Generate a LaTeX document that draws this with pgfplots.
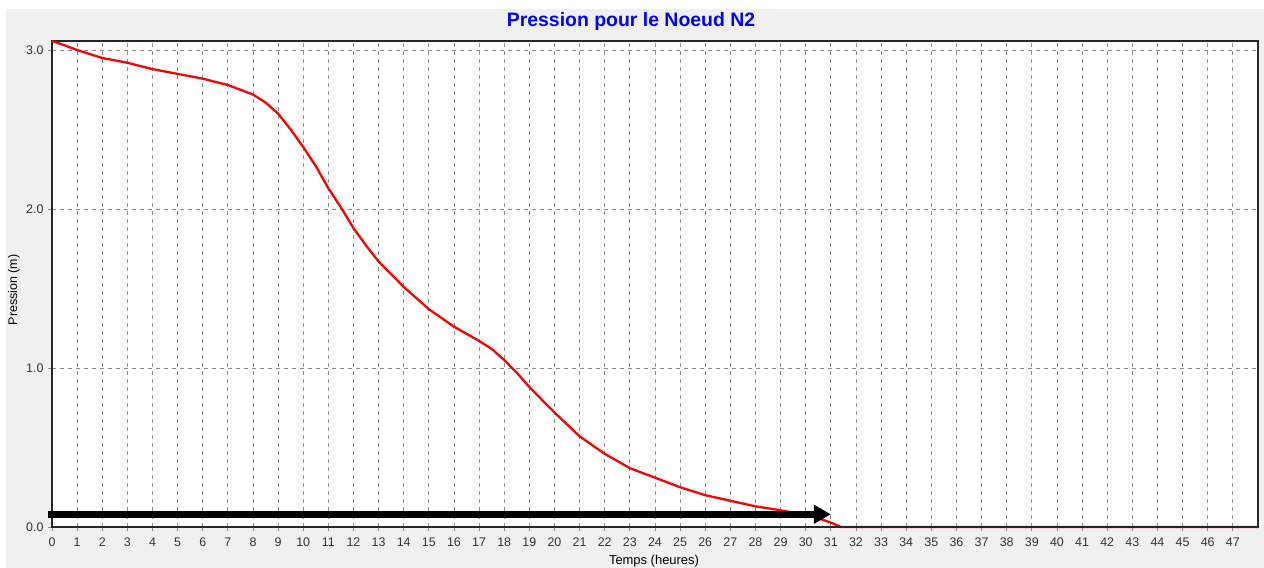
\documentclass[border=0pt]{standalone}
\usepackage{fontspec}
\setmainfont{Liberation Sans}
\usepackage{pgfplots}
\pgfplotsset{compat=1.18}
\usetikzlibrary{arrows.meta}
\definecolor{panel}{HTML}{F0F0F0}
\definecolor{gridc}{HTML}{8C8C8C}

\begin{document}
\begin{tikzpicture}[x=1bp,y=1bp]
\path[use as bounding box,fill=white] (0,0) rectangle (1264,568);
\fill[panel] (6,0) rectangle (1264,559);

\node[font=\bfseries\fontsize{19.5}{22}\selectfont, text=blue] at (631,547) {Pression pour le Noeud N2};
\node[font=\fontsize{12.5}{14}\selectfont, rotate=90] at (14,278) {Pression (m)};
\node[font=\fontsize{13}{15}\selectfont] at (654,7) {Temps (heures)};

\begin{axis}[
at={(52bp,41bp)}, anchor=origin,
scale only axis,
width=1206bp, height=486bp,
xmin=0, xmax=48,
ymin=0, ymax=3.057,
xtick={0,1,...,47},
ytick={0,1,2,3},
yticklabels={0.0,1.0,2.0,3.0},
/pgf/number format/assume math mode=true,
ticklabel style={font=\fontsize{12.5}{14}\selectfont, text=black!80},
tick align=outside,
major tick length=4bp,
tick style={gridc, line width=0.8bp},
xtick pos=bottom, ytick pos=left,
xticklabel style={yshift=-3bp},
yticklabel style={xshift=-1bp},
grid=major,
grid style={gridc, dash pattern=on 4bp off 4bp, line width=0.8bp},
axis background/.style={fill=white},
axis line style={black!85, line width=1.5bp},
clip=false,
]

% pression au noeud N2
\addplot[red, line width=2.3bp, line join=round] coordinates {
(0,3.057) (0.5,3.03) (1,3.00) (2,2.95) (3,2.92) (4,2.88) (5,2.85)
(6,2.82) (7,2.78) (8,2.72) (8.5,2.67) (9,2.60) (9.5,2.50) (10,2.39)
(10.5,2.27) (11,2.13) (11.5,2.01) (12,1.88) (12.5,1.77) (13,1.67)
(14,1.51) (15,1.37) (16,1.26) (17,1.17) (17.5,1.12) (18,1.05)
(18.5,0.97) (19,0.88) (20,0.72) (21,0.57) (22,0.46) (23,0.37)
(24,0.31) (25,0.25) (26,0.20) (27,0.165) (28,0.13) (29,0.105)
(30,0.075) (30.5,0.055) (31,0.028) (31.4,0) (48,0)
};

% axe du bas par-dessus la courbe nulle
\draw[black!85, line width=2.7bp] (rel axis cs:0,0) -- (rel axis cs:1,0);

% fleche
\addplot[black, line width=6.5bp, -{Triangle[length=17bp,width=18bp]}] coordinates {
(-0.16,0.08) (31.0,0.08)
};

\end{axis}
\end{tikzpicture}
\end{document}
